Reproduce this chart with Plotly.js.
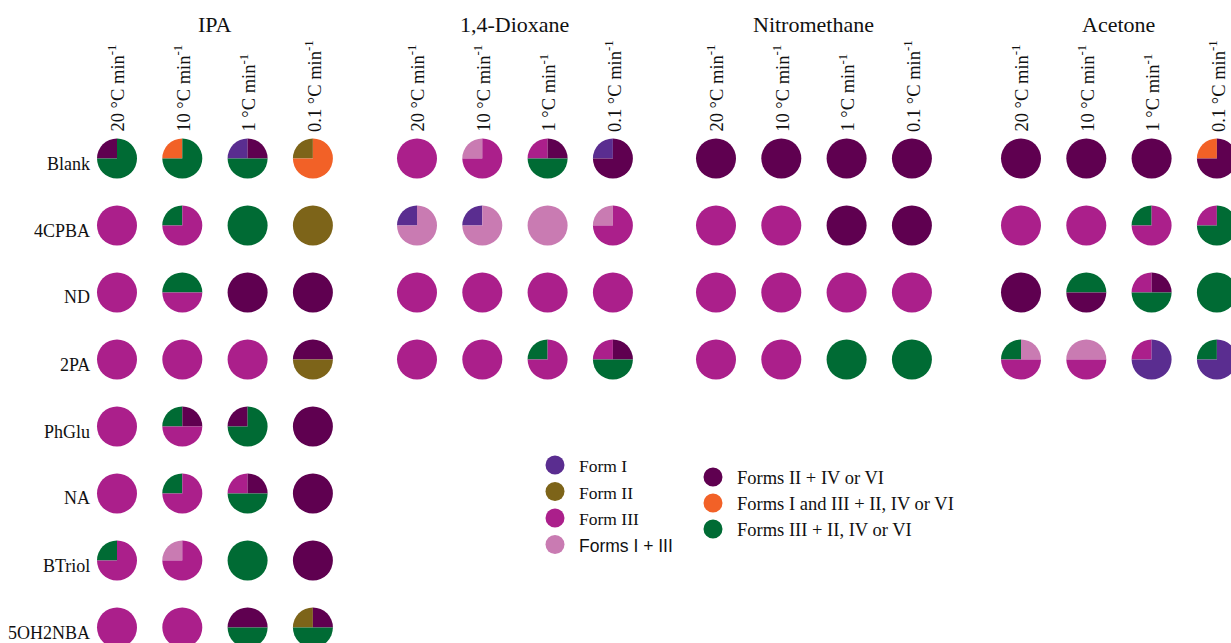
<!DOCTYPE html>
<html>
<head>
<meta charset="utf-8">
<script src="https://cdn.plot.ly/plotly-3.0.1.min.js"></script>
<style>
html,body{margin:0;padding:0;overflow:hidden;background:#fff;width:1231px;height:643px;}
#chart{width:1250px;height:660px;}
</style>
</head>
<body>
<div id="chart"></div>
<script>
// ---- data ----
const solvents = ["IPA", "1,4-Dioxane", "Nitromethane", "Acetone"];
const rates = ["20 °C min<sup>-1</sup>", "10 °C min<sup>-1</sup>", "1 °C min<sup>-1</sup>", "0.1 °C min<sup>-1</sup>"];
const additives = ["Blank", "4CPBA", "ND", "2PA", "PhGlu", "NA", "BTriol", "5OH2NBA"];

// form codes
const formCodes  = ["A", "B", "C", "D", "E", "F", "G"];
const formNames  = ["Form I", "Form II", "Form III", "Forms I + III",
                    "Forms II + IV or VI", "Forms I and III + II, IV or VI", "Forms III + II, IV or VI"];
const formColors = ["#5A2D90", "#7D6419", "#AB1F8B", "#C97BB2", "#5F0050", "#F26127", "#006B34"];

// each result: quarters in order top-left, top-right, bottom-right, bottom-left
const ipa = [
  ["EGGG", "FGGG", "AEGG", "BFFF"],
  ["CCCC", "GCCC", "GGGG", "BBBB"],
  ["CCCC", "GGCC", "EEEE", "EEEE"],
  ["CCCC", "CCCC", "CCCC", "EEBB"],
  ["CCCC", "GECC", "EGGG", "EEEE"],
  ["CCCC", "GCCC", "CEGG", "EEEE"],
  ["GCCC", "DCCC", "GGGG", "EEEE"],
  ["CCCC", "CCCC", "EEGG", "BEGG"]
];
const dioxane = [
  ["CCCC", "DCCC", "CEGG", "AEEE"],
  ["ADDD", "ADDD", "DDDD", "DCCC"],
  ["CCCC", "CCCC", "CCCC", "CCCC"],
  ["CCCC", "CCCC", "GCCC", "CEGG"]
];
const nitromethane = [
  ["EEEE", "EEEE", "EEEE", "EEEE"],
  ["CCCC", "CCCC", "EEEE", "EEEE"],
  ["CCCC", "CCCC", "CCCC", "CCCC"],
  ["CCCC", "CCCC", "GGGG", "GGGG"]
];
const acetone = [
  ["EEEE", "EEEE", "EEEE", "FEEE"],
  ["CCCC", "CCCC", "GCCC", "CGGG"],
  ["EEEE", "GGEE", "CEGG", "GGGG"],
  ["GDCC", "DDCC", "CAAA", "GAAA"]
];
const results = [ipa, dioxane, nitromethane, acetone];

// ---- layout geometry (pixels) ----
const W = 1250, H = 660;
const groupX = [117, 417, 716, 1021];
const colStep = 65.3;
const rowY0 = 158.5, rowStep = 67;
const R = 20;
const fx = px => px / W;
const fy = py => 1 - py / H;

const serif = "Liberation Serif, Times New Roman, serif";
const traces = [];
const annotations = [];
const shapes = [];

// merge neighbouring quarters of the same form into one slice
function runs(code) {
  const q = code.split(""); // TL, TR, BR, BL (clockwise from 9 o'clock)
  let start = 0;
  if (!q.every(k => k === q[0])) {
    // start at a colour boundary so wrap-around quarters merge
    while (q[start] === q[(start + 3) % 4]) start++;
  }
  const seq = [0, 1, 2, 3].map(i => q[(start + i) % 4]);
  const out = [];
  seq.forEach(k => {
    if (out.length && out[out.length - 1].k === k) out[out.length - 1].n += 1;
    else out.push({ k: k, n: 1 });
  });
  return { start: start, runs: out };
}

results.forEach((grid, g) => {
  grid.forEach((row, r) => {
    row.forEach((code, c) => {
      const cx = groupX[g] + c * colStep;
      const cy = rowY0 + r * rowStep;
      const rr = runs(code);
      const idx = rr.runs.map(o => formCodes.indexOf(o.k));
      let rot = -90 + 90 * rr.start;
      if (rot > 180) rot -= 360;
      traces.push({
        type: "pie",
        values: rr.runs.map(o => o.n),
        labels: rr.runs.map((o, i) => "s" + i),
        sort: false,
        direction: "clockwise",
        rotation: rot,
        textinfo: "none",
        showlegend: false,
        marker: { colors: idx.map(i => formColors[i]), line: { width: 0 } },
        hovertext: idx.map(i => solvents[g] + " / " + additives[r] + "<br>" + formNames[i]),
        hoverinfo: "text",
        domain: { x: [fx(cx - R), fx(cx + R)], y: [fy(cy + R), fy(cy - R)] }
      });
    });
  });
});

// group titles and rate headers
solvents.forEach((s, g) => {
  const center = groupX[g] + 1.5 * colStep;
  annotations.push({
    text: s, xref: "paper", yref: "paper", x: fx(center), y: fy(25),
    xanchor: "center", yanchor: "middle", showarrow: false,
    font: { family: serif, size: 22, color: "#111" }
  });
  rates.forEach((rt, c) => {
    annotations.push({
      text: rt, xref: "paper", yref: "paper", x: fx(groupX[g] + c * colStep), y: fy(134),
      xanchor: "center", yanchor: "bottom", textangle: -90, showarrow: false,
      font: { family: serif, size: 18.5, color: "#111" }
    });
  });
});

// row labels
additives.forEach((a, r) => {
  annotations.push({
    text: a, xref: "paper", yref: "paper", x: fx(92), y: fy(rowY0 + r * rowStep + 5),
    xanchor: "right", yanchor: "middle", showarrow: false,
    font: { family: serif, size: 18, color: "#111" }
  });
});

// legend (two columns)
const legendCols = [
  { items: [0, 1, 2, 3], x: 555, y: 465, step: 26.5, size: 17.5 },
  { items: [4, 5, 6], x: 713, y: 477, step: 26, size: 18.5 }
];
legendCols.forEach(col => {
  col.items.forEach((i, k) => {
    const yy = col.y + k * col.step;
    shapes.push({
      type: "circle", xref: "paper", yref: "paper",
      x0: fx(col.x - 9.5), x1: fx(col.x + 9.5), y0: fy(yy + 9.5), y1: fy(yy - 9.5),
      fillcolor: formColors[i], line: { width: 0 }
    });
    annotations.push({
      text: formNames[i], xref: "paper", yref: "paper", x: fx(col.x + 22), y: fy(yy + 1),
      xanchor: "left", yanchor: "middle", showarrow: false,
      font: { family: i === 3 ? "Liberation Sans, Arial, sans-serif" : serif, size: col.size, color: "#111" }
    });
  });
});

const layout = {
  width: W, height: H,
  margin: { l: 0, r: 0, t: 0, b: 0 },
  paper_bgcolor: "#fff", plot_bgcolor: "#fff",
  showlegend: false,
  annotations: annotations,
  shapes: shapes
};

Plotly.newPlot("chart", traces, layout, { displayModeBar: false });
</script>
</body>
</html>
